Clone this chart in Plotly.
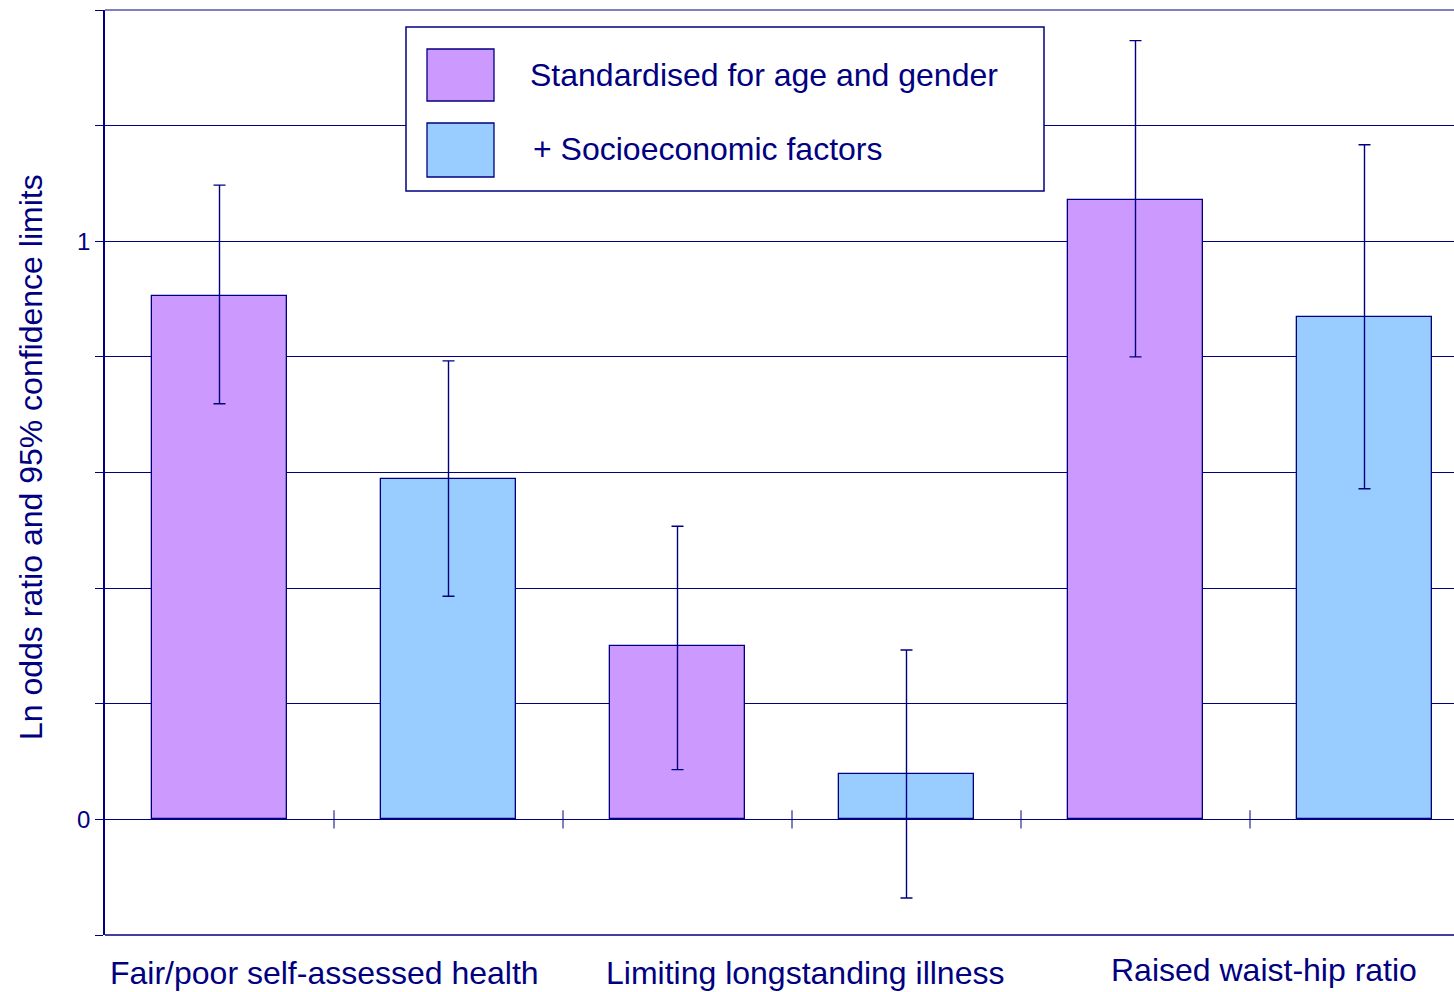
import plotly.graph_objects as go

# ---- data ----
categories = ["Fair/poor self-assessed health", "Limiting longstanding illness", "Raised waist-hip ratio"]
series_names = ["Standardised for age and gender", "+ Socioeconomic factors"]
std_vals = [0.905, 0.300, 1.071]
std_upper = [1.097, 0.507, 1.347]
std_lower = [0.719, 0.086, 0.800]
soc_vals = [0.588, 0.078, 0.869]
soc_upper = [0.793, 0.293, 1.167]
soc_lower = [0.386, -0.136, 0.572]
y_tickvals = [-0.2, 0, 0.2, 0.4, 0.6, 0.8, 1.0, 1.2, 1.4]
y_ticktext = ["", "0", "", "", "", "", "1", "", ""]

# ---- style ----
NAVY = "#000080"
PURPLE = "#CC99FF"
BLUE = "#99CCFF"
FONT = "Arial, Liberation Sans, sans-serif"
W, H = 1454, 992
ML, MR, MT, MB = 105, 0, 10, 57
PW, PH = W - ML - MR, H - MT - MB
label_xshift = [-10, 13, 14]
label_yshift = [-38, -38, -35]


def px(x):
    return (x - ML) / PW


def py(y):
    return (MT + PH - y) / PH


n = len(categories)
x_std = [2 * i for i in range(n)]
x_soc = [2 * i + 1 for i in range(n)]

fig = go.Figure()
fig.add_trace(go.Bar(
    x=x_std, y=std_vals, width=0.59, name=series_names[0],
    marker=dict(color=PURPLE, line=dict(color=NAVY, width=1.3)),
    error_y=dict(type="data", symmetric=False,
                 array=[u - v for u, v in zip(std_upper, std_vals)],
                 arrayminus=[v - l for v, l in zip(std_vals, std_lower)],
                 color=NAVY, thickness=1.4, width=6),
    showlegend=False,
))
fig.add_trace(go.Bar(
    x=x_soc, y=soc_vals, width=0.59, name=series_names[1],
    marker=dict(color=BLUE, line=dict(color=NAVY, width=1.3)),
    error_y=dict(type="data", symmetric=False,
                 array=[u - v for u, v in zip(soc_upper, soc_vals)],
                 arrayminus=[v - l for v, l in zip(soc_vals, soc_lower)],
                 color=NAVY, thickness=1.4, width=6),
    showlegend=False,
))
# slot boundary tick marks on the zero line
bounds = [k + 0.5 for k in range(2 * n)]
fig.add_trace(go.Scatter(
    x=bounds, y=[0] * len(bounds), mode="markers", hoverinfo="skip",
    marker=dict(symbol="line-ns-open", size=13, color=NAVY, line=dict(color=NAVY, width=1)),
    showlegend=False, cliponaxis=True,
))

fig.update_layout(
    width=W, height=H,
    margin=dict(l=ML, r=MR, t=MT, b=MB),
    paper_bgcolor="white", plot_bgcolor="white",
    font=dict(family=FONT, color=NAVY),
    bargap=0,
)
fig.update_xaxes(
    range=[-0.5, -0.5 + PW / 229.0], showgrid=False, zeroline=False,
    showticklabels=False, showline=False, ticks="",
)
fig.update_yaxes(
    range=[-0.2, 1.4], tickvals=y_tickvals, ticktext=y_ticktext,
    showgrid=True, gridcolor=NAVY, gridwidth=1,
    zeroline=True, zerolinecolor=NAVY, zerolinewidth=1,
    showline=True, linecolor=NAVY, linewidth=1.5,
    ticks="outside", ticklen=8, tickcolor=NAVY, tickwidth=1,
    tickfont=dict(size=24, color=NAVY, family=FONT),
)

shapes = [
    dict(type="line", xref="paper", yref="paper", x0=0, x1=1, y0=1, y1=1,
         line=dict(color=NAVY, width=1)),
    dict(type="line", xref="paper", yref="paper", x0=0, x1=1, y0=0, y1=0,
         line=dict(color=NAVY, width=1.5)),
    # legend box
    dict(type="rect", xref="paper", yref="paper", x0=px(406), x1=px(1044), y0=py(191), y1=py(27),
         fillcolor="white", line=dict(color=NAVY, width=1.5), layer="above"),
    dict(type="rect", xref="paper", yref="paper", x0=px(427), x1=px(494), y0=py(101), y1=py(49),
         fillcolor=PURPLE, line=dict(color=NAVY, width=1.3), layer="above"),
    dict(type="rect", xref="paper", yref="paper", x0=px(427), x1=px(494), y0=py(177), y1=py(123),
         fillcolor=BLUE, line=dict(color=NAVY, width=1.3), layer="above"),
]
fig.update_layout(shapes=shapes)

annotations = [
    dict(text=series_names[0], xref="paper", yref="paper", x=px(528), y=py(75),
         xanchor="left", yanchor="middle", showarrow=False,
         font=dict(size=32, color=NAVY, family=FONT)),
    dict(text=series_names[1], xref="paper", yref="paper", x=px(531), y=py(149),
         xanchor="left", yanchor="middle", showarrow=False,
         font=dict(size=32, color=NAVY, family=FONT)),
    dict(text="Ln odds ratio and 95% confidence limits", xref="paper", yref="paper",
         x=px(31), y=py(457), xanchor="center", yanchor="middle", textangle=-90,
         showarrow=False, font=dict(size=32, color=NAVY, family=FONT)),
]
for i, c in enumerate(categories):
    annotations.append(dict(
        text=c, xref="x", yref="paper", x=2 * i + 0.5, y=0, yanchor="middle",
        xanchor="center", xshift=label_xshift[i], yshift=label_yshift[i], showarrow=False,
        font=dict(size=32, color=NAVY, family=FONT)))
fig.update_layout(annotations=annotations)

fig.write_html("out.html", config={"displayModeBar": False},
               post_script="document.body.style.margin='0';document.body.style.padding='0';")
